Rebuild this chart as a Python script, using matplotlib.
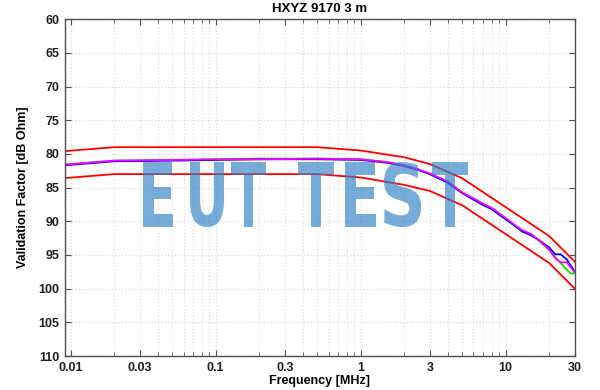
import matplotlib
matplotlib.use('Agg')
import matplotlib.pyplot as plt
from matplotlib.ticker import FixedLocator, LogLocator, NullFormatter
from matplotlib.textpath import TextPath
from matplotlib.font_manager import FontProperties
from matplotlib.patches import PathPatch
from matplotlib.transforms import Affine2D, IdentityTransform

plt.rcParams['font.family'] = ['Liberation Sans Narrow', 'Liberation Sans', 'DejaVu Sans']

# limit lines (red)
lim_freq = [0.009, 0.02, 0.5, 1, 2, 3, 5, 20, 30]
lim_upper = [79.6, 79.0, 79.0, 79.5, 80.5, 81.5, 83.6, 92.2, 96.0]
lim_lower = [83.6, 83.0, 83.0, 83.5, 84.6, 85.5, 87.6, 96.2, 100.0]

# measured curves
freq = [0.009, 0.02, 0.05, 0.1, 0.2, 0.5, 1, 1.5, 2, 2.5, 3, 4, 5, 6, 7, 8,
        10, 12, 13, 15, 17, 20, 22, 24, 26.5, 28, 29, 30]
blue = [81.7, 81.1, 81.0, 80.9, 80.8, 80.8, 80.9, 81.3, 81.8, 82.4, 83.0, 84.3,
        85.8, 86.8, 87.6, 88.2, 89.7, 90.9, 91.5, 92.1, 92.8, 93.9, 94.9, 94.9,
        95.7, 96.5, 97.0, 97.5]
green = [81.6, 81.0, 80.9, 80.8, 80.7, 80.7, 80.8, 81.2, 81.7, 82.3, 83.0, 84.2,
         85.7, 86.6, 87.5, 88.1, 89.6, 91.0, 91.5, 92.0, 92.9, 94.3, 95.3, 96.2,
         97.2, 97.7, 97.8, 97.6]
magenta = [81.6, 81.0, 80.9, 80.8, 80.8, 80.7, 80.8, 81.2, 81.7, 82.3, 82.9, 84.1,
           85.7, 86.6, 87.4, 88.0, 89.5, 90.8, 91.3, 91.9, 92.8, 94.2, 95.5, 96.1,
           96.1, 96.8, 97.2, 97.5]

xticks = [0.01, 0.03, 0.1, 0.3, 1, 3, 10, 30]
xticklabels = ['0.01', '0.03', '0.1', '0.3', '1', '3', '10', '30']
yticks = [60, 65, 70, 75, 80, 85, 90, 95, 100, 105, 110]

fig = plt.figure(figsize=(6, 3.9), dpi=100)
ax = fig.add_axes([0.108, 0.087, 0.85, 0.864])

ax.plot(lim_freq, lim_upper, color='#ff0000', lw=1.3)
ax.plot(lim_freq, lim_lower, color='#ff0000', lw=1.3)
ax.plot(freq, green, color='#00e000', lw=1.3)
ax.plot(freq, blue, color='#0000ff', lw=1.3)
ax.plot(freq, magenta, color='#ff00ff', lw=1.3)

ax.set_xscale('log')
ax.set_xlim(0.0091, 30)
ax.set_ylim(110, 60)
ax.xaxis.set_major_locator(FixedLocator(xticks))
ax.set_xticklabels(xticklabels)
ax.xaxis.set_minor_locator(LogLocator(base=10, subs=range(1, 10), numticks=20))
ax.xaxis.set_minor_formatter(NullFormatter())
ax.set_yticks(yticks)

ax.grid(True, which='both', axis='x', color='#dcdcdc', ls=':', lw=0.9)
ax.grid(True, which='major', axis='y', color='#dcdcdc', ls=':', lw=0.9)
ax.set_axisbelow(True)

ax.tick_params(which='both', direction='in', top=True, right=True,
               color='#505050', labelsize=9, pad=4)
ax.tick_params(which='major', length=4)
ax.tick_params(which='minor', length=3)
for lbl in ax.get_xticklabels() + ax.get_yticklabels():
    lbl.set_fontweight('bold')
    lbl.set_color('#202020')
for sp in ax.spines.values():
    sp.set_color('#505050')
    sp.set_linewidth(1.0)

ax.set_title('HXYZ 9170 3 m', fontsize=9.5, fontweight='bold', pad=5)
ax.set_xlabel('Frequency [MHz]', fontsize=9, fontweight='bold', labelpad=1)
ax.set_ylabel('Validation Factor [dB Ohm]', fontsize=9, fontweight='bold', labelpad=7)

# watermark, condensed letters drawn as paths (pixel boxes)
fp = FontProperties(family='DejaVu Sans', weight='bold')
letters = [('E', 143, 173), ('U', 190, 224), ('T', 231, 266),
           ('T', 298, 334), ('E', 345, 376), ('S', 384, 421), ('T', 432, 468)]
top_px, bot_px = 162, 227
H = 390
for ch, x0, x1 in letters:
    tp = TextPath((0, 0), ch, size=100, prop=fp)
    ext = tp.get_extents()
    sx = (x1 - x0) / ext.width
    sy = (bot_px - top_px) / ext.height
    tr = Affine2D().translate(-ext.x0, -ext.y0).scale(sx, sy).translate(x0, H - bot_px)
    patch = PathPatch(tr.transform_path(tp), facecolor='#2f7fc4', edgecolor='none',
                      alpha=0.65, transform=IdentityTransform(), zorder=10)
    fig.add_artist(patch)

fig.savefig('out.png', dpi=100)
